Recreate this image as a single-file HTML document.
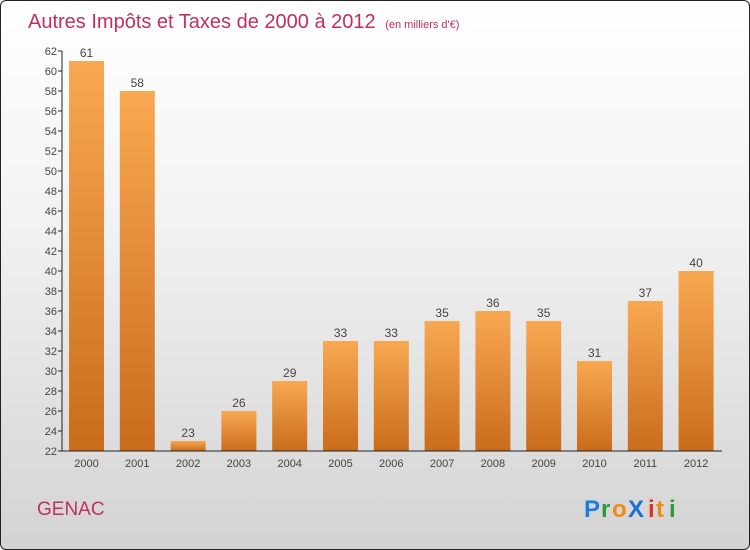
<!DOCTYPE html>
<html><head><meta charset="utf-8"><style>
body{margin:0}
#c{width:748px;height:548px;border:1px solid #222;border-radius:6px;position:relative;overflow:hidden;background:linear-gradient(#ffffff,#f2f2f2 40%,#d3d3d3);font-family:"Liberation Sans",sans-serif}
</style></head><body>
<div id="c">
<svg id="s" width="748" height="548">
<defs><linearGradient id="g" x1="0" y1="0" x2="0" y2="1"><stop offset="0" stop-color="#f9a852"/><stop offset="1" stop-color="#c96c1c"/></linearGradient></defs>
<text x="27" y="27" font-size="20" fill="#c0305e">Autres Impôts et Taxes de 2000 à 2012 <tspan font-size="11" dx="4">(en milliers d'€)</tspan></text>
<text x="36" y="514" font-size="19" fill="#c0305e">GENAC</text>
<g font-size="24" font-weight="bold"><text x="583" y="516" fill="#1a7fd6">P</text><text x="600" y="516" fill="#2a9a3a">r</text><text x="611" y="516" fill="#f08a10">o</text><text x="627" y="516" fill="#1a6fd0">X</text><text x="647" y="516" fill="#e03020">i</text><text x="655" y="516" fill="#f08a10">t</text><text x="668" y="516" fill="#2a9a3a">i</text></g>
</svg></div>
<script>
const years=["2000","2001","2002","2003","2004","2005","2006","2007","2008","2009","2010","2011","2012"];
const values=[61,58,23,26,29,33,33,35,36,35,31,37,40];
const yTicks=[22,24,26,28,30,32,34,36,38,40,42,44,46,48,50,52,54,56,58,60,62];
const s=document.getElementById('s'),NS="http://www.w3.org/2000/svg";
const y=v=>450-(v-22)*10, x=i=>85.5+i*50.8;
function mk(t,a,txt){const e=document.createElementNS(NS,t);for(const k in a)e.setAttribute(k,a[k]);if(txt!=null)e.textContent=txt;s.appendChild(e);return e;}
values.forEach((v,i)=>{
 const r=mk('rect',{x:x(i)-17.5,y:y(v),width:35,height:450-y(v),fill:'url(#g)'});
 
 
 const t=mk('text',{x:x(i),y:y(v)-4,'font-size':12,fill:'#444','text-anchor':'middle'},v);
 
 
 const l=mk('text',{x:x(i),y:466,'font-size':11,fill:'#444','text-anchor':'middle'},years[i]);
 
 
});
yTicks.forEach(v=>{
 const tk=mk('line',{x1:57,x2:61,y1:y(v),y2:y(v),stroke:'#222'});
 
 
 const t=mk('text',{x:56,y:y(v)+4,'font-size':11,fill:'#444','text-anchor':'end'},v);
 
 
});
const ya=mk('line',{x1:61,x2:61,y1:y(62),y2:450,stroke:'#222'});


const xa=mk('line',{x1:61,x2:721,y1:450,y2:450,stroke:'#222'});


</script>
</body></html>
